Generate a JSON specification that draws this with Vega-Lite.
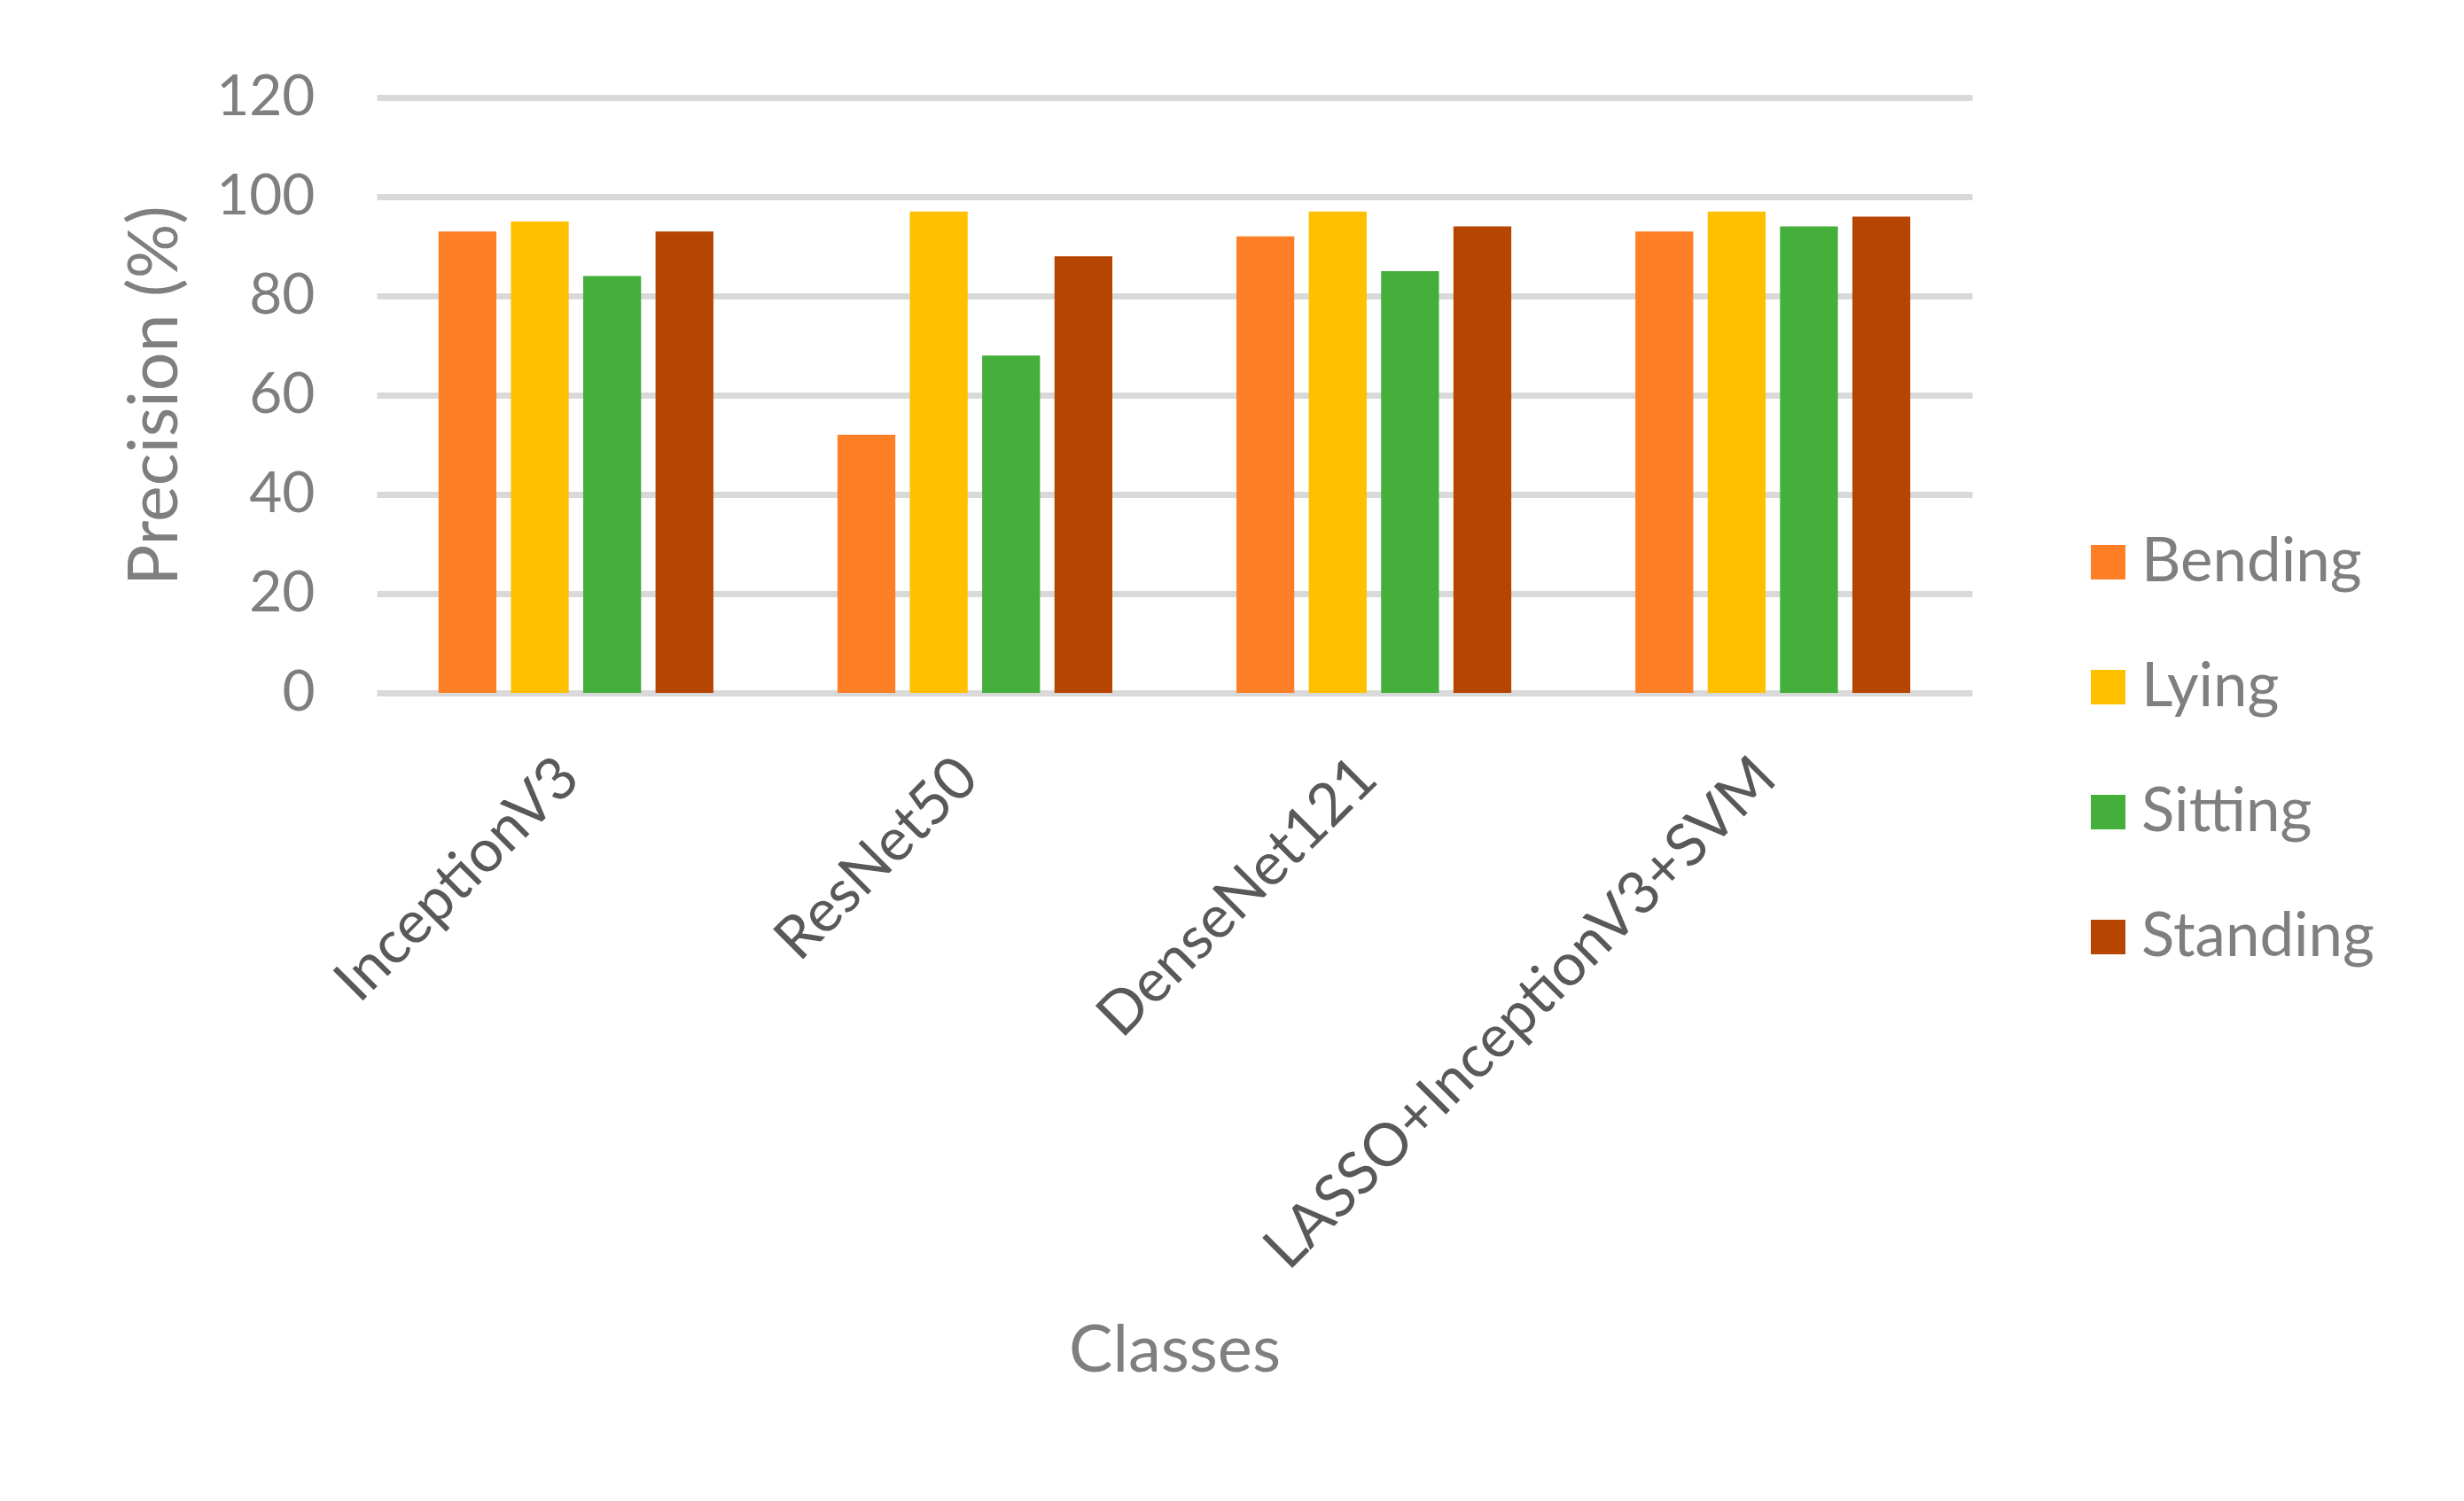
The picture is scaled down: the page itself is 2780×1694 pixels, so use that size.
{
  "$schema": "https://vega.github.io/schema/vega-lite/v6.json",
  "width": 1800,
  "height": 672,
  "autosize": {"type": "none"},
  "padding": {"left": 425, "top": 110, "right": 555, "bottom": 912},
  "background": "white",
  "data": {
    "values": [
      {"model": "InceptionV3", "activity": "Bending", "precision": 93},
      {"model": "InceptionV3", "activity": "Lying", "precision": 95},
      {"model": "InceptionV3", "activity": "Sitting", "precision": 84},
      {"model": "InceptionV3", "activity": "Standing", "precision": 93},
      {"model": "ResNet50", "activity": "Bending", "precision": 52},
      {"model": "ResNet50", "activity": "Lying", "precision": 97},
      {"model": "ResNet50", "activity": "Sitting", "precision": 68},
      {"model": "ResNet50", "activity": "Standing", "precision": 88},
      {"model": "DenseNet121", "activity": "Bending", "precision": 92},
      {"model": "DenseNet121", "activity": "Lying", "precision": 97},
      {"model": "DenseNet121", "activity": "Sitting", "precision": 85},
      {"model": "DenseNet121", "activity": "Standing", "precision": 94},
      {"model": "LASSO+InceptionV3+SVM", "activity": "Bending", "precision": 93},
      {"model": "LASSO+InceptionV3+SVM", "activity": "Lying", "precision": 97},
      {"model": "LASSO+InceptionV3+SVM", "activity": "Sitting", "precision": 94},
      {"model": "LASSO+InceptionV3+SVM", "activity": "Standing", "precision": 96}
    ]
  },
  "mark": {"type": "bar"},
  "encoding": {
    "x": {
      "field": "model",
      "type": "nominal",
      "sort": ["InceptionV3", "ResNet50", "DenseNet121", "LASSO+InceptionV3+SVM"],
      "scale": {"paddingInner": 0.311, "paddingOuter": 0.155},
      "title": "Classes",
      "axis": {
        "labelAngle": -45,
        "labelAlign": "right",
        "labelBaseline": "middle",
        "labelPadding": 85,
        "labelOffset": -7,
        "labelFontSize": 67,
        "labelFont": "Lato",
        "labelColor": "#595959",
        "labelLimit": 2000,
        "ticks": false,
        "domain": false,
        "grid": false,
        "titleFont": "Lato",
        "titleFontSize": 74,
        "titleFontWeight": "normal",
        "titleColor": "#7F7F7F",
        "titleY": 743,
        "titleBaseline": "middle"
      }
    },
    "xOffset": {
      "field": "activity",
      "type": "nominal",
      "sort": ["Bending", "Lying", "Sitting", "Standing"],
      "scale": {"paddingInner": 0.2, "paddingOuter": 0}
    },
    "y": {
      "field": "precision",
      "type": "quantitative",
      "scale": {"domain": [0, 120], "nice": false},
      "title": "Precision (%)",
      "axis": {
        "values": [0, 20, 40, 60, 80, 100, 120],
        "labelFontSize": 64,
        "labelFont": "Lato",
        "labelColor": "#7F7F7F",
        "labelPadding": 70,
        "ticks": false,
        "domain": false,
        "grid": true,
        "gridColor": "#D9D9D9",
        "gridWidth": 7,
        "titleFont": "Lato",
        "titleFontSize": 77,
        "titleFontWeight": "normal",
        "titleColor": "#7F7F7F",
        "titlePadding": 28
      }
    },
    "color": {
      "field": "activity",
      "type": "nominal",
      "sort": ["Bending", "Lying", "Sitting", "Standing"],
      "scale": {
        "domain": ["Bending", "Lying", "Sitting", "Standing"],
        "range": ["#FF7F27", "#FFC000", "#44AF3A", "#B54500"]
      },
      "legend": {
        "title": null,
        "orient": "none",
        "legendX": 1919,
        "legendY": 490,
        "padding": 0,
        "symbolType": "square",
        "symbolSize": 1521,
        "symbolStrokeWidth": 0,
        "symbolOpacity": 1,
        "labelFontSize": 69,
        "labelFont": "Lato",
        "labelColor": "#7F7F7F",
        "labelOffset": 3,
        "labelLimit": 1000,
        "rowPadding": 71
      }
    }
  },
  "config": {
    "view": {"stroke": null}
  }
}
